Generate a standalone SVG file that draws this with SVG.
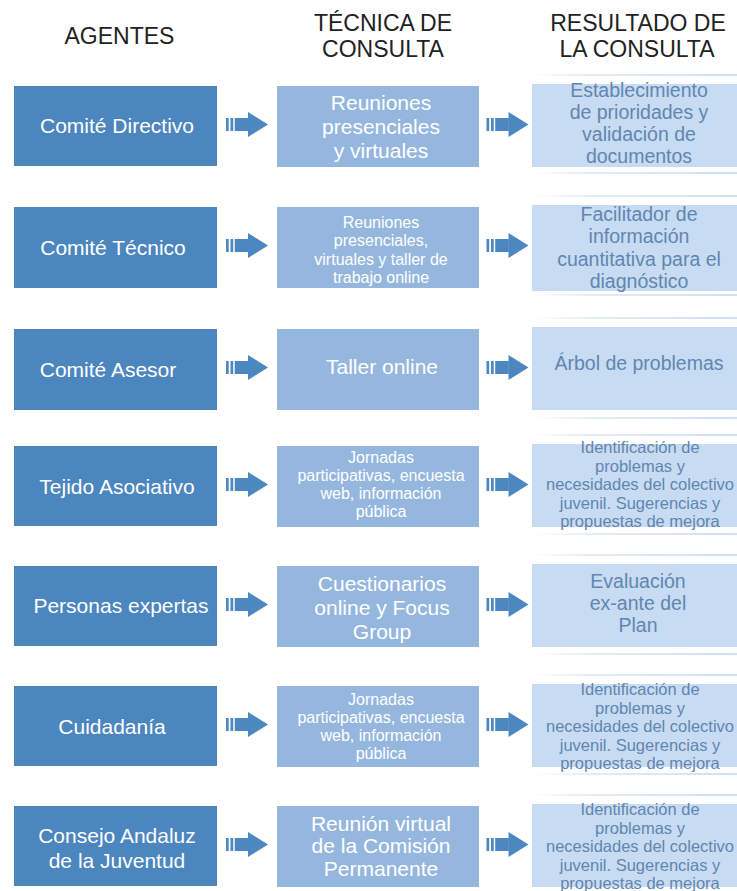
<svg xmlns="http://www.w3.org/2000/svg" width="737" height="891" viewBox="0 0 737 891">
<style>
  text { font-family: "Liberation Sans", Arial, sans-serif; text-anchor: middle; }
  .hdr { font-size: 23px; fill: #222222; }
  .agent rect { fill: #4c86be; }
  .agent text { font-size: 21px; fill: #ffffff; }
  .tech rect { fill: #95b7de; }
  .tech text { fill: #ffffff; }
  .res rect { fill: #c7dbf2; }
  .res text { fill: #6286b0; }
  .big { font-size: 21px; }
  .sm { font-size: 16px; }
  .rb { font-size: 19.5px; }
  .rs { font-size: 16.5px; }
  .ln { fill: url(#fade); }
  .arw { fill: #4c87c0; }
</style>
<defs>
  <linearGradient id="fade" x1="0" y1="0" x2="1" y2="0">
    <stop offset="0" stop-color="#dbe7f5" stop-opacity="0"/>
    <stop offset="0.3" stop-color="#dbe7f5" stop-opacity="0.8"/>
    <stop offset="1" stop-color="#cfe0f3"/>
  </linearGradient>
  <g id="arr">
    <rect x="0" y="-6.5" width="2.7" height="13"/>
    <rect x="4.5" y="-6.5" width="2.7" height="13"/>
    <rect x="8.7" y="-6.5" width="13.6" height="13"/>
    <polygon points="22,-12.5 42,0 22,12.5"/>
  </g>
</defs>
<rect width="737" height="891" fill="#ffffff"/>

<g id="headers">
  <text class="hdr" x="119.5" y="44">AGENTES</text>
  <text class="hdr" x="383" y="31">TÉCNICA DE</text>
  <text class="hdr" x="383" y="57">CONSULTA</text>
  <text class="hdr" x="638" y="31">RESULTADO DE</text>
  <text class="hdr" x="637" y="57">LA CONSULTA</text>
</g>

<g id="decor">
  <rect class="ln" x="532" y="74" width="205" height="2"/>
  <rect class="ln" x="532" y="172" width="205" height="2"/>
  <rect class="ln" x="532" y="195" width="205" height="2"/>
  <rect class="ln" x="532" y="294" width="205" height="2"/>
  <rect class="ln" x="532" y="317" width="205" height="2"/>
  <rect class="ln" x="532" y="417" width="205" height="2"/>
  <rect class="ln" x="532" y="434" width="205" height="2"/>
  <rect class="ln" x="532" y="533" width="205" height="2"/>
  <rect class="ln" x="532" y="554" width="205" height="2"/>
  <rect class="ln" x="532" y="653" width="205" height="2"/>
  <rect class="ln" x="532" y="674" width="205" height="2"/>
  <rect class="ln" x="532" y="773" width="205" height="2"/>
  <rect class="ln" x="532" y="794" width="205" height="2"/>
</g>

<!-- Row 1 -->
<g id="agent1" class="agent">
  <rect x="14" y="86" width="203" height="80"/>
  <text x="117" y="133">Comité Directivo</text>
</g>
<g id="tech1" class="tech">
  <rect x="277" y="86" width="202" height="81"/>
  <text class="big" x="381" y="110">Reuniones</text>
  <text class="big" x="381" y="134">presenciales</text>
  <text class="big" x="381" y="158">y virtuales</text>
</g>
<g id="res1" class="res">
  <rect x="532" y="84" width="205" height="83"/>
  <text class="rb" x="639" y="97">Establecimiento</text>
  <text class="rb" x="639" y="119">de prioridades y</text>
  <text class="rb" x="639" y="141">validación de</text>
  <text class="rb" x="639" y="163">documentos</text>
</g>

<!-- Row 2 -->
<g id="agent2" class="agent">
  <rect x="14" y="207" width="203" height="81"/>
  <text x="113" y="255">Comité Técnico</text>
</g>
<g id="tech2" class="tech">
  <rect x="277" y="207" width="202" height="81"/>
  <text class="sm" x="381" y="228">Reuniones</text>
  <text class="sm" x="381" y="246">presenciales,</text>
  <text class="sm" x="381" y="265">virtuales y taller de</text>
  <text class="sm" x="381" y="283">trabajo online</text>
</g>
<g id="res2" class="res">
  <rect x="532" y="205" width="205" height="86"/>
  <text class="rb" x="639" y="221">Facilitador de</text>
  <text class="rb" x="639" y="243">información</text>
  <text class="rb" x="639" y="266">cuantitativa para el</text>
  <text class="rb" x="639" y="288">diagnóstico</text>
</g>

<!-- Row 3 -->
<g id="agent3" class="agent">
  <rect x="14" y="329" width="203" height="81"/>
  <text x="108" y="377">Comité Asesor</text>
</g>
<g id="tech3" class="tech">
  <rect x="277" y="329" width="202" height="81"/>
  <text class="big" x="382" y="374">Taller online</text>
</g>
<g id="res3" class="res">
  <rect x="532" y="327" width="205" height="83"/>
  <text class="rb" x="639" y="370">Árbol de problemas</text>
</g>

<!-- Row 4 -->
<g id="agent4" class="agent">
  <rect x="14" y="446" width="203" height="80"/>
  <text x="117" y="494">Tejido Asociativo</text>
</g>
<g id="tech4" class="tech">
  <rect x="277" y="446" width="202" height="81"/>
  <text class="sm" x="381" y="463">Jornadas</text>
  <text class="sm" x="381" y="481">participativas, encuesta</text>
  <text class="sm" x="381" y="499">web, información</text>
  <text class="sm" x="381" y="517">pública</text>
</g>
<g id="res4" class="res">
  <rect x="532" y="444" width="205" height="83"/>
  <text class="rs" x="640" y="453">Identificación de</text>
  <text class="rs" x="640" y="472">problemas y</text>
  <text class="rs" x="640" y="490">necesidades del colectivo</text>
  <text class="rs" x="640" y="509">juvenil. Sugerencias y</text>
  <text class="rs" x="640" y="527">propuestas de mejora</text>
</g>

<!-- Row 5 -->
<g id="agent5" class="agent">
  <rect x="14" y="566" width="203" height="80"/>
  <text x="121" y="613">Personas expertas</text>
</g>
<g id="tech5" class="tech">
  <rect x="277" y="566" width="202" height="81"/>
  <text class="big" x="382" y="591">Cuestionarios</text>
  <text class="big" x="382" y="615">online y Focus</text>
  <text class="big" x="382" y="639">Group</text>
</g>
<g id="res5" class="res">
  <rect x="532" y="564" width="205" height="83"/>
  <text class="rb" x="638" y="588">Evaluación</text>
  <text class="rb" x="638" y="610">ex-ante del</text>
  <text class="rb" x="638" y="632">Plan</text>
</g>

<!-- Row 6 -->
<g id="agent6" class="agent">
  <rect x="14" y="686" width="203" height="80"/>
  <text x="112" y="734">Cuidadanía</text>
</g>
<g id="tech6" class="tech">
  <rect x="277" y="686" width="202" height="81"/>
  <text class="sm" x="381" y="705">Jornadas</text>
  <text class="sm" x="381" y="723">participativas, encuesta</text>
  <text class="sm" x="381" y="741">web, información</text>
  <text class="sm" x="381" y="759">pública</text>
</g>
<g id="res6" class="res">
  <rect x="532" y="684" width="205" height="83"/>
  <text class="rs" x="640" y="695">Identificación de</text>
  <text class="rs" x="640" y="714">problemas y</text>
  <text class="rs" x="640" y="732">necesidades del colectivo</text>
  <text class="rs" x="640" y="751">juvenil. Sugerencias y</text>
  <text class="rs" x="640" y="769">propuestas de mejora</text>
</g>

<!-- Row 7 -->
<g id="agent7" class="agent">
  <rect x="14" y="806" width="203" height="80"/>
  <text x="117" y="843">Consejo Andaluz</text>
  <text x="117" y="868">de la Juventud</text>
</g>
<g id="tech7" class="tech">
  <rect x="277" y="806" width="202" height="81"/>
  <text class="big" x="381" y="831">Reunión virtual</text>
  <text class="big" x="381" y="853">de la Comisión</text>
  <text class="big" x="381" y="876">Permanente</text>
</g>
<g id="res7" class="res">
  <rect x="532" y="804" width="205" height="83"/>
  <text class="rs" x="640" y="815">Identificación de</text>
  <text class="rs" x="640" y="834">problemas y</text>
  <text class="rs" x="640" y="852">necesidades del colectivo</text>
  <text class="rs" x="640" y="871">juvenil. Sugerencias y</text>
  <text class="rs" x="640" y="889">propuestas de mejora</text>
</g>

<g id="connectors" class="arw">
  <use href="#arr" x="226" y="124.5"/>
  <use href="#arr" x="486.5" y="124.5"/>
  <use href="#arr" x="226" y="245.5"/>
  <use href="#arr" x="486.5" y="245.5"/>
  <use href="#arr" x="226" y="367.5"/>
  <use href="#arr" x="486.5" y="367.5"/>
  <use href="#arr" x="226" y="484.5"/>
  <use href="#arr" x="486.5" y="484.5"/>
  <use href="#arr" x="226" y="604.5"/>
  <use href="#arr" x="486.5" y="604.5"/>
  <use href="#arr" x="226" y="724.5"/>
  <use href="#arr" x="486.5" y="724.5"/>
  <use href="#arr" x="226" y="844.5"/>
  <use href="#arr" x="486.5" y="844.5"/>
</g>
</svg>
